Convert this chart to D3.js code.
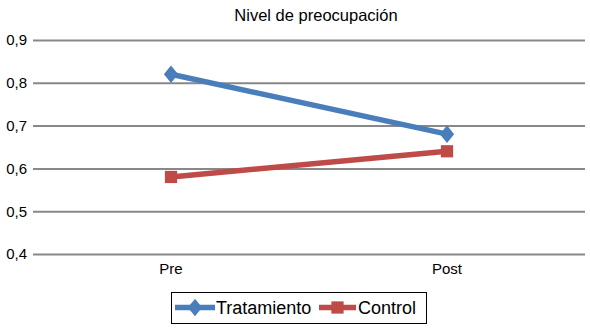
<!DOCTYPE html>
<html><head><meta charset="utf-8">
<script src="https://cdn.jsdelivr.net/npm/d3@7"></script>
<style>body{margin:0;background:#fff}svg{display:block;font-family:"Liberation Sans",Arial,sans-serif}</style>
</head><body><svg id="c" width="590" height="329"></svg>
<script>
const categories = ["Pre", "Post"];
const tratamiento = [0.82, 0.68];
const control = [0.58, 0.64];
const yTicks = [0.4, 0.5, 0.6, 0.7, 0.8, 0.9];
const seriesNames = ["Tratamiento", "Control"];
const colors = ["#4a7ebb", "#be4b48"];

const svg = d3.select("#c");
const x = d3.scaleBand().domain(categories).range([33, 585]);
const y = d3.scaleLinear().domain([0.4, 0.9]).range([254, 40]);
const fmt = d => d3.format(".1f")(d).replace(".", ",");

svg.append("text").attr("x", 316).attr("y", 21).attr("text-anchor", "middle")
  .attr("font-size", 16.5).text("Nivel de preocupación");

const ya = svg.append("g").attr("transform", "translate(33,0)")
  .call(d3.axisLeft(y).tickValues(yTicks).tickSize(-552).tickPadding(6).tickFormat(fmt));
ya.select(".domain").remove();
ya.selectAll("line").attr("stroke", "#888").attr("stroke-width", 2);
ya.selectAll("text").attr("font-size", 15).attr("fill", "#000").attr("font-family", "Liberation Sans, Arial, sans-serif");

const xa = svg.append("g").attr("transform", "translate(0,254)")
  .call(d3.axisBottom(x).tickSize(0).tickPadding(9));
xa.select(".domain").remove();
xa.selectAll("text").attr("font-size", 15).attr("fill", "#000").attr("font-family", "Liberation Sans, Arial, sans-serif");

const cx = c => x(c) + x.bandwidth() / 2;
const line = d3.line().x((d, i) => cx(categories[i])).y(d => y(d));
const data = [tratamiento, control];
const diamond = d3.symbol().type(d3.symbolDiamond).size(90);
const square = d3.symbol().type(d3.symbolSquare).size(150);

data.forEach((vals, si) => {
  svg.append("path").attr("d", line(vals)).attr("fill", "none")
    .attr("stroke", colors[si]).attr("stroke-width", 5.5);
  vals.forEach((v, i) => {
    svg.append("path").attr("d", si === 0 ? diamond() : square())
      .attr("transform", `translate(${cx(categories[i])},${y(v)})${si===0?" scale(1.4,1)":""}`)
      .attr("fill", colors[si]);
  });
});

// legend
const lg = svg.append("g");
lg.append("rect").attr("x", 171.5).attr("y", 292.5).attr("width", 255).attr("height", 31)
  .attr("fill", "none").attr("stroke", "#000").attr("stroke-width", 1);
const items = [{x0: 175, w: 40, tx: 216}, {x0: 319, w: 37, tx: 358}];
items.forEach((it, si) => {
  lg.append("line").attr("x1", it.x0).attr("x2", it.x0 + it.w).attr("y1", 307.5).attr("y2", 307.5)
    .attr("stroke", colors[si]).attr("stroke-width", 5.5);
  lg.append("path").attr("d", si === 0 ? diamond() : square())
    .attr("transform", `translate(${it.x0 + it.w / 2},307.5)${si===0?" scale(1.4,1)":""}`)
    .attr("fill", colors[si]);
  lg.append("text").attr("x", it.tx).attr("y", 314).attr("font-size", 18)
    .text(seriesNames[si]);
});
</script></body></html>
